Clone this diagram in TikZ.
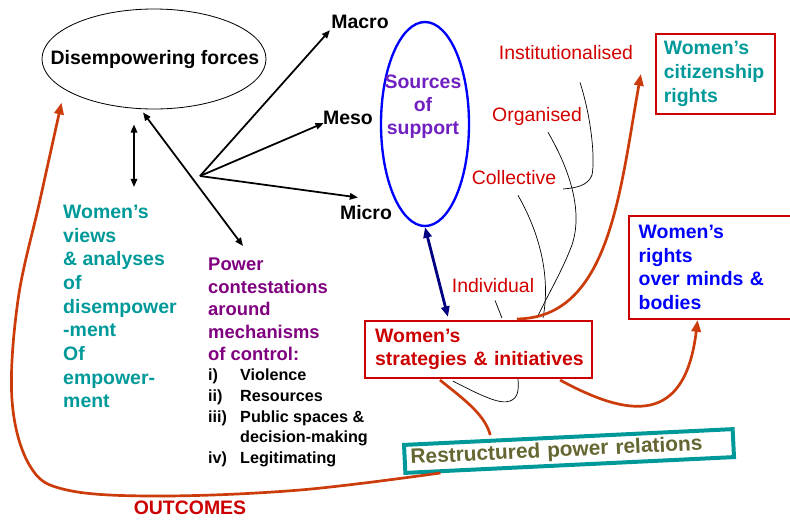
\documentclass[tikz,border=0pt]{standalone}
\usepackage{fontspec}
\setmainfont{Liberation Sans}
\usetikzlibrary{shapes.geometric,arrows.meta}

\definecolor{viewteal}{RGB}{0,153,153}
\definecolor{powerpurple}{RGB}{128,0,128}
\definecolor{srcviolet}{RGB}{112,32,192}
\definecolor{labelred}{RGB}{210,0,0}
\definecolor{boxred}{RGB}{204,0,0}
\definecolor{outorange}{RGB}{204,60,10}
\definecolor{rprolive}{RGB}{102,102,51}
\definecolor{rightsblue}{RGB}{0,0,255}
\definecolor{arrownavy}{RGB}{0,0,128}

\begin{document}
\begin{tikzpicture}[x=0.03cm, y=-0.03cm,
	bigtext/.style={font=\bfseries\fontsize{16.6}{20.2}\selectfont, inner sep=0},
	supportlabel/.style={font=\fontsize{16.6}{20}\selectfont, text=labelred, inner sep=0},
	blackarrow/.style={line width=1.5pt, -{Triangle[length=7pt,width=5.5pt]}},
	blackboth/.style={line width=1.5pt, {Triangle[length=7pt,width=5.5pt]}-{Triangle[length=7pt,width=5.5pt]}},
	outcomeline/.style={draw=outorange, line width=2.3pt},
	outcomearrow/.style={outcomeline, -{Triangle[length=10pt,width=8pt]}},
	redbox/.style={draw=boxred, line width=2.1pt, fill=white, bigtext, align=left},
	thinline/.style={line width=0.6pt}
]
	\useasboundingbox (0,0) rectangle (790,521);

	\node[ellipse, draw, line width=0.7pt, minimum width=6.72cm, minimum height=3cm, inner sep=0] (dis) at (154,59) {};
	\node[bigtext] (distext) at (155,60) {Disempowering forces};
	\node[ellipse, draw=rightsblue, line width=2pt, minimum width=2.64cm, minimum height=6.12cm, inner sep=0] (src) at (425,124) {};
	\node[bigtext, text=srcviolet, align=center, font=\bfseries\fontsize{16.6}{19.6}\selectfont] (srctext) at (423,107) {Sources\\of\\support};

	\node[bigtext, inner sep=1pt] (macro) at (360,22) {Macro};
	\node[bigtext, inner sep=1pt] (meso) at (348,118) {Meso};
	\node[bigtext, inner sep=1pt] (micro) at (366,213) {Micro};
	\coordinate (hub) at (200,176);

	\node[bigtext, text=viewteal, align=left, anchor=north west] (views) at (63,205) {Women’s\\views\\\& analyses\\of\\disempower\\-ment\\Of\\empower-\\ment};
	\node[bigtext, text=powerpurple, align=left, anchor=north west, font=\bfseries\fontsize{15.7}{19.1}\selectfont] (power) at (208,258) {Power\\contestations\\around\\mechanisms\\of control:};
	\node[bigtext, align=left, anchor=north west, font=\bfseries\fontsize{13.8}{17.6}\selectfont] (ctrl) at (208,369) {\makebox[0.96cm][l]{i)}Violence\\\makebox[0.96cm][l]{ii)}Resources\\\makebox[0.96cm][l]{iii)}Public spaces \&\\\hspace*{0.96cm}decision-making\\\makebox[0.96cm][l]{iv)}Legitimating};

	\node[supportlabel] (inst) at (566,53) {Institutionalised};
	\node[supportlabel] (org) at (537,116) {Organised};
	\node[supportlabel] (coll) at (514,178) {Collective};
	\node[supportlabel] (indiv) at (493,286) {Individual};

	\node[redbox, text=boxred, minimum width=6.8cm, minimum height=1.7cm, text width=6.5cm, inner xsep=0.15cm] (strat) at (478.5,349.5) {\hspace*{0.15cm}Women’s\\\hspace*{0.15cm}strategies \& initiatives};
	\node[redbox, text=viewteal, minimum width=3.56cm, minimum height=2.39cm, text width=3.1cm, inner xsep=0.23cm] (cit) at (715.5,74) {Women’s\\citizenship\\rights};
	\node[redbox, text=rightsblue, minimum width=5.1cm, minimum height=3.08cm, text width=4.52cm, inner xsep=0.29cm] (rights) at (714,267.5) {Women’s\\rights\\over minds \&\\bodies};
	\node[draw=viewteal, line width=3.4pt, fill=white, rotate=2.75, minimum width=9.87cm, minimum height=0.84cm, text width=9.51cm, inner xsep=0.18cm, inner ysep=0, align=left, text=rprolive, font=\bfseries\fontsize{17.8}{20}\selectfont] (rpr) at (569,451) {Restructured power relations};

	\node[bigtext, text=boxred] (outcomes) at (190,508) {OUTCOMES};

	\draw[blackarrow] (hub) -- (macro.south west);
	\draw[blackarrow] (hub) -- ([shift={(2,5)}]meso.west);
	\draw[blackarrow] (hub) -- ([shift={(-8,-7)}]micro.north);
	\draw[blackboth] ([shift={(-11,3)}]dis.south) -- ([shift={(35,-12)}]power.north west);
	\draw[blackboth] ([shift={(-20,15)}]dis.south) -- ([shift={(71,-18)}]views.north west);
	\draw[line width=2.4pt, draw=arrownavy, {Triangle[length=9pt,width=7pt]}-{Triangle[length=9pt,width=7pt]}] (src.south) -- ([shift={(84,-3)}]strat.north west);

	\draw[thinline] ([shift={(14,22)}]inst.south) .. controls (592,120) and (595,160) .. (592,175) .. controls (588,186) and (575,188) .. (563,189);
	\draw[thinline] ([shift={(11,7)}]org.south) .. controls (570,170) and (585,215) .. (570,250) .. controls (560,275) and (545,300) .. (537,318);
	\draw[thinline] ([shift={(4,10)}]coll.south) .. controls (535,225) and (552,270) .. (543,318);
	\draw[thinline] ([shift={(2,7)}]indiv.south) -- ([shift={(138,-2)}]strat.north west);
	\draw[thinline] ([shift={(89,2)}]strat.south west) .. controls (480,395) and (500,405) .. (510,401) .. controls (518,398) and (519,390) .. (518,379);

	\coordinate (outstart) at ([shift={(37,-2)}]rpr.south west);
	\coordinate (outend) at ([shift={(-13,8)}]dis.south west);
	\draw[outcomearrow] plot[smooth, tension=0.6] coordinates {(outstart) (300,490) (160,496) (67,490) (30,466) (12,400) (18,300) (40,200) (outend)};
	\draw[outcomearrow] ([shift={(153,-1)}]strat.north west) .. controls (610,318) and (620,190) .. ([xshift=-12]cit.west);
	\draw[outcomearrow] ([shift={(-33,1)}]strat.south east) .. controls (630,418) and (685,425) .. ([xshift=-14]rights.south);
	\draw[outcomeline] ([shift={(76,1)}]strat.south west) .. controls (465,400) and (485,415) .. ([shift={(-78,0)}]rpr.north);
\end{tikzpicture}
\end{document}
